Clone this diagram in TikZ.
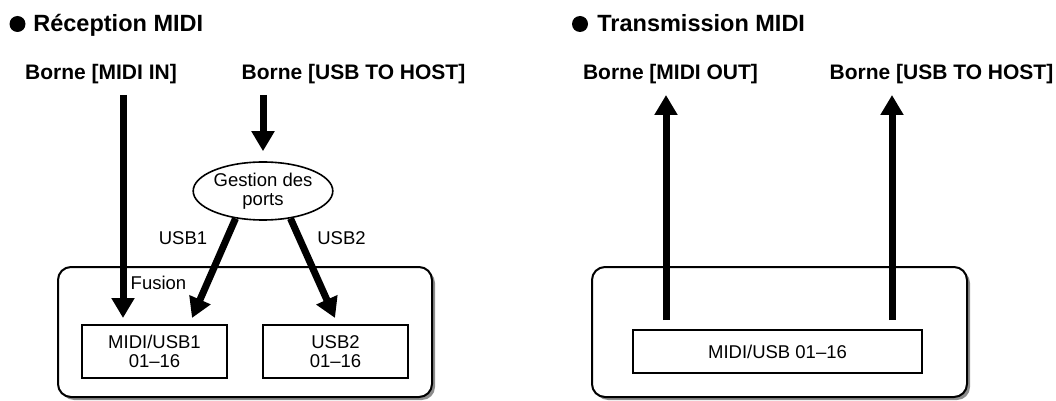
\documentclass[tikz,border=0pt]{standalone}
\usepackage{fontspec}
\setmainfont{Liberation Sans}
\usetikzlibrary{arrows.meta,shapes.geometric,shadows}

\tikzset{
  headtxt/.style={font=\fontsize{11.75}{14}\selectfont\bfseries, anchor=base west, inner sep=0pt},
  bornetxt/.style={font=\fontsize{10.5}{12}\selectfont\bfseries, anchor=base, inner sep=0pt},
  smalltxt/.style={font=\fontsize{9.25}{9.5}\selectfont, inner sep=0pt, align=center},
  fatarrow/.style={line width=3.5pt, -{Triangle[width=11pt,length=10pt]}},
  panel/.style={draw, line width=1pt, rounded corners=6.5pt, fill=white,
    minimum height=65pt, inner sep=0pt,
    drop shadow={shadow xshift=1.5pt, shadow yshift=-1.5pt, fill=black!45, opacity=1}},
  chanbox/.style={draw, line width=1pt, fill=white, inner sep=0pt, align=center,
    font=\fontsize{9.25}{9.5}\selectfont},
}

\begin{document}
\begin{tikzpicture}[x=0.5pt,y=-0.5pt]
  \useasboundingbox (0,0) rectangle (1056,401);

  % left: reception
  \fill (17.5,24) circle (4pt);
  \node[headtxt] (rxhead) at (33,32) {Réception MIDI};
  \node[bornetxt] (midiin) at (101,80) {Borne [MIDI IN]};
  \node[bornetxt] (usbin) at (353.5,80) {Borne [USB TO HOST]};

  \node[panel, minimum width=187pt] (rxpanel) at (245,332) {};
  \node[smalltxt] (fusion) at (158.5,283) {Fusion};
  \node[chanbox, minimum width=72.5pt, minimum height=26.5pt] (m1) at (154.5,351.5) {MIDI/USB1\\01–16};
  \node[chanbox, minimum width=72.5pt, minimum height=26.5pt] (u2) at (335.5,351.5) {USB2\\01–16};

  \node[draw, ellipse, line width=0.8pt, minimum width=65pt, minimum height=29pt,
    smalltxt] (port) at (263,191) {Gestion des\\ports};
  \node[smalltxt] (usb1) at (183,238.5) {USB1};
  \node[smalltxt] (usb2) at (341.5,238.5) {USB2};

  \coordinate (inA) at (123,95);
  \coordinate (inB) at (123,318);
  \coordinate (hostA) at (263,95);
  \coordinate (p1) at (192,318);
  \coordinate (p2) at (335,318);

  \draw[fatarrow] (inA) -- (inB);
  \draw[fatarrow, shorten >=5pt] (hostA) -- (port.north);
  \draw[fatarrow] (port.225) -- (p1);
  \draw[fatarrow] (port.315) -- (p2);

  % right: transmission
  \fill (580,24) circle (4pt);
  \node[headtxt] (txhead) at (597,32) {Transmission MIDI};
  \node[bornetxt] (midiout) at (670.5,80) {Borne [MIDI OUT]};
  \node[bornetxt] (usbout) at (941.5,80) {Borne [USB TO HOST]};

  \node[panel, minimum width=187.5pt] (txpanel) at (779.5,332) {};
  \node[chanbox, minimum width=144.5pt, minimum height=21.5pt] (mu) at (777.5,351.5) {MIDI/USB 01–16};

  \coordinate (outA) at (666,320);
  \coordinate (outB) at (666,95);
  \coordinate (hostC) at (892,320);
  \coordinate (hostD) at (892,95);

  \draw[fatarrow] (outA) -- (outB);
  \draw[fatarrow] (hostC) -- (hostD);
\end{tikzpicture}
\end{document}
